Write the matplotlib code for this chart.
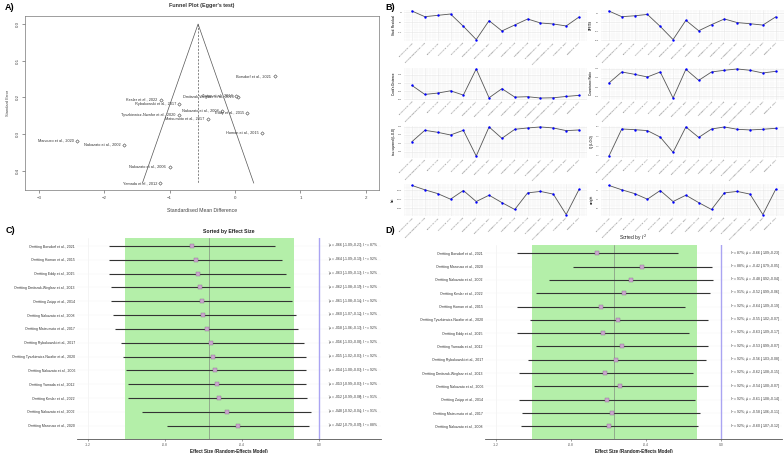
import numpy as np
import matplotlib
matplotlib.use('Agg')
from matplotlib import pyplot as plt

plt.rcParams['font.family'] = ['Liberation Sans', 'DejaVu Sans']

W, H = 784, 453

# studies in alphabetical order (funnel plot + influence diagnostics)
studies = ["Borsdorf et al., 2021", "Dmitrzak-Weglarz et al., 2013", "Eddy et al., 2015",
           "Homan et al., 2015", "Kesler et al., 2022", "Mancuso et al., 2020",
           "Matsumoto et al., 2017", "Nakazato et al., 2002", "Nakazato et al., 2006",
           "Nakazato et al., 2008", "Rybakowski et al., 2017", "Tyszkiewicz-Nwafor et al., 2020",
           "Yamada et al., 2012", "Zwipp et al., 2014"]
smd = [0.61, 0.04, 0.19, 0.41, -1.13, -2.41, -0.41, -1.69, -1.00, -0.20, -0.85, -0.86, -1.14, 0.02]
se = [0.142, 0.199, 0.242, 0.297, 0.206, 0.319, 0.258, 0.330, 0.390, 0.237, 0.219, 0.249, 0.434, 0.196]
pooled = -0.565

# influence diagnostics (same study order)
stud_resid = [1.70, 0.85, 1.05, 1.25, -0.60, -2.60, 0.25, -1.30, -0.40, 0.50, -0.10, -0.25, -0.55, 0.80]
dffits = [0.50, 0.25, 0.29, 0.35, -0.18, -0.76, 0.09, -0.37, -0.10, 0.15, -0.01, -0.06, -0.12, 0.24]
cooks_d = [0.102, 0.035, 0.045, 0.062, 0.030, 0.225, 0.010, 0.078, 0.015, 0.018, 0.008, 0.010, 0.020, 0.028]
cov_ratio = [0.967, 1.150, 1.111, 1.067, 1.150, 0.717, 1.194, 1.011, 1.150, 1.178, 1.200, 1.178, 1.133, 1.161]
tau2_loo = [0.360, 0.428, 0.416, 0.400, 0.428, 0.274, 0.448, 0.380, 0.434, 0.442, 0.448, 0.442, 0.426, 0.430]
q_loo = [139.9, 167.9, 167.2, 166.2, 159.5, 143.8, 170.0, 159.2, 167.9, 170.0, 167.6, 166.9, 167.6, 168.6]
weight = [7.76, 7.52, 7.31, 7.00, 7.48, 6.87, 7.22, 6.81, 6.43, 7.35, 7.43, 7.28, 6.15, 7.54]
hat = [w / 100 for w in weight]

# leave-one-out results, sorted by effect size
loo_names = ["Borsdorf et al., 2021", "Homan et al., 2015", "Eddy et al., 2015",
             "Dmitrzak-Weglarz et al., 2013", "Zwipp et al., 2014", "Nakazato et al., 2008",
             "Matsumoto et al., 2017", "Rybakowski et al., 2017", "Tyszkiewicz-Nwafor et al., 2020",
             "Nakazato et al., 2006", "Yamada et al., 2012", "Kesler et al., 2022",
             "Nakazato et al., 2002", "Mancuso et al., 2020"]
loo_est = [-0.66, -0.64, -0.63, -0.62, -0.61, -0.60, -0.58, -0.56, -0.55, -0.54, -0.53, -0.52, -0.48, -0.42]
loo_low = [-1.09, -1.09, -1.09, -1.08, -1.08, -1.07, -1.06, -1.03, -1.02, -1.00, -0.99, -0.99, -0.92, -0.79]
loo_high = [-0.23, -0.19, -0.17, -0.15, -0.14, -0.12, -0.11, -0.08, -0.07, -0.07, -0.07, -0.06, -0.04, -0.05]
loo_i2 = [87, 92, 92, 92, 92, 92, 92, 92, 92, 92, 92, 91, 91, 88]

# order used in the I^2 sorted panel
i2_order = ["Borsdorf et al., 2021", "Mancuso et al., 2020", "Nakazato et al., 2002",
            "Kesler et al., 2022", "Homan et al., 2015", "Tyszkiewicz-Nwafor et al., 2020",
            "Eddy et al., 2015", "Yamada et al., 2012", "Rybakowski et al., 2017",
            "Dmitrzak-Weglarz et al., 2013", "Nakazato et al., 2006", "Zwipp et al., 2014",
            "Matsumoto et al., 2017", "Nakazato et al., 2008"]

ci_low, ci_high, loo_pooled = -1.01, -0.13, -0.573


def box(x0, y0, x1, y1):
    return [x0 / W, 1 - y1 / H, (x1 - x0) / W, (y1 - y0) / H]


fig = plt.figure(figsize=(W / 100, H / 100), dpi=100)
fig.patch.set_facecolor('white')

# ---------------- A) funnel plot ----------------
ax = fig.add_axes(box(25, 16, 379, 190))
semax = max(se)
ax.plot([pooled - 1.96 * semax, pooled, pooled + 1.96 * semax], [semax, 0, semax],
        color='#555555', lw=0.5)
ax.plot([pooled, pooled], [0, semax], color='#555555', lw=0.5, ls=(0, (3, 2)))
ax.scatter(smd, se, marker='D', s=3, facecolors='white', edgecolors='#444444', linewidths=0.4, zorder=3)
for name, x, y in zip(studies, smd, se):
    ax.annotate(name, (x, y), xytext=(-2.5, 0), textcoords='offset points',
                ha='right', va='center', fontsize=2.8, color='#333333')
ax.set_xlim(-3.21, 2.2)
ax.set_ylim(0.453, -0.022)
ax.set_xticks([-3, -2, -1, 0, 1, 2])
ax.set_yticks([0.0, 0.1, 0.2, 0.3, 0.4])
ax.set_yticklabels(['0.0', '0.1', '0.2', '0.3', '0.4'], rotation=90, va='center')
ax.tick_params(labelsize=3.2, length=2, width=0.4, colors='#444444', pad=2)
for s in ax.spines.values():
    s.set_color('#777777')
    s.set_linewidth(0.5)
ax.set_xlabel('Standardised Mean Difference', fontsize=3.7, color='#444444', labelpad=6)
ax.set_ylabel('Standard Error', fontsize=2.9, color='#444444', labelpad=4)
fig.text(202 / W, 1 - 5 / H, "Funnel Plot (Egger's test)", ha='center', va='center',
         fontsize=3.9, fontweight='bold', color='#333333')

# ---------------- B) influence diagnostics ----------------
rows = [(9.6, 41), (67.5, 99.5), (125.5, 157.5), (184, 216)]
cols = [(403.6, 587.4), (600.6, 784)]
panels = [(stud_resid, 'Stud. Residual'), (dffits, 'DFFITS'),
          (cooks_d, "Cook's Distance"), (cov_ratio, 'Covariance Ratio'),
          (tau2_loo, 'tau-squared (L.O.O)'), (q_loo, 'Q (L.O.O)'),
          (hat, 'hat'), (weight, 'weight')]
xpos = np.arange(1, len(studies) + 1)
for i, (vals, lab) in enumerate(panels):
    r, c = divmod(i, 2)
    bx = fig.add_axes(box(cols[c][0], rows[r][0], cols[c][1], rows[r][1]))
    bx.plot(xpos, vals, color='#555555', lw=0.6, zorder=2)
    bx.scatter(xpos, vals, s=3, color='blue', zorder=3, linewidths=0)
    bx.set_xticks(xpos)
    bx.set_xticklabels(studies, rotation=45, ha='right', rotation_mode='anchor', fontsize=1.5, color='#555555')
    bx.tick_params(axis='y', labelsize=1.5, colors='#555555')
    bx.tick_params(length=0, pad=1)
    bx.yaxis.set_major_locator(matplotlib.ticker.MaxNLocator(4))
    bx.grid(True, color='#e6e6e6', lw=0.4)
    bx.minorticks_on()
    bx.grid(True, which='minor', color='#f2f2f2', lw=0.3)
    bx.tick_params(which='minor', length=0)
    bx.set_axisbelow(True)
    for s in bx.spines.values():
        s.set_visible(False)
    bx.set_ylabel(lab, fontsize=2.1, fontweight='bold', color='#333333', labelpad=1.5)


# ---------------- C) / D) leave-one-out forest plots ----------------
def forest(rect, names, est, low, high, i2, ylim, xlim, i2_first):
    fx = fig.add_axes(rect)
    pos = np.arange(1, len(names) + 1)
    fx.set_xlim(*xlim)
    fx.set_ylim(*ylim)
    fx.grid(True, axis='x', color='#ececec', lw=0.4)
    fx.grid(True, axis='y', color='#f4f4f4', lw=0.3)
    fx.set_axisbelow(True)
    fx.axvspan(ci_low, ci_high, color='#b4efa9', lw=0, zorder=1)
    fx.axvline(loo_pooled, color='#777777', lw=0.4, zorder=2)
    fx.axvline(0, color='#aaa4f2', lw=1.0, zorder=2)
    fx.hlines(pos, low, high, color='#333333', lw=0.8, zorder=3)
    fx.scatter(est, pos, s=6, marker='s', facecolors='#c9a6cc', edgecolors='#8f6b93',
               linewidths=0.3, zorder=4)
    for p, e, lo, hi, q in zip(pos, est, low, high, i2):
        ci = f"{e:.2f} [{lo:.2f};{hi:.2f}]"
        if i2_first:
            txt = rf"$I^2$ = {q}%; $\hat{{\mu}}$ = {ci}"
        else:
            txt = rf"$\hat{{\mu}}$ = {ci}; $I^2$ = {q}%"
        fx.text(0.048, p, txt, ha='left', va='center', fontsize=2.4, color='#333333', zorder=5)
    fx.set_yticks(pos)
    fx.set_yticklabels([f"Omitting {n}" for n in names], fontsize=2.5, color='#333333')
    fx.set_xticks([-1.2, -0.8, -0.4, 0.0])
    fx.set_xticklabels(['-1.2', '-0.8', '-0.4', '0.0'])
    fx.tick_params(axis='x', labelsize=2.4, colors='#555555', length=1.2, width=0.4, pad=1.5)
    fx.tick_params(axis='y', length=0, pad=1.5)
    for s in ['top', 'right', 'left']:
        fx.spines[s].set_visible(False)
    fx.spines['bottom'].set_color('#555555')
    fx.spines['bottom'].set_linewidth(0.6)
    fx.set_xlabel('Effect Size (Random-Effects Model)', fontsize=3.3, fontweight='bold',
                  color='#222222', labelpad=1.5)
    return fx


forest(box(77, 238, 381, 439), loo_names, loo_est, loo_low, loo_high, loo_i2,
       (14.96, 0.42), (-1.257, 0.322), False)
fig.text(229 / W, 1 - 232 / H, 'Sorted by Effect Size', ha='center', va='center',
         fontsize=3.7, fontweight='bold', color='#222222')

idx = [loo_names.index(n) for n in i2_order]
forest(box(485, 245, 782, 439), i2_order,
       [loo_est[k] for k in idx], [loo_low[k] for k in idx],
       [loo_high[k] for k in idx], [loo_i2[k] for k in idx],
       (14.95, 0.38), (-1.26, 0.326), True)
fig.text(633 / W, 1 - 238 / H, r'Sorted by $I^2$', ha='center', va='center',
         fontsize=3.5, color='#222222')

# panel letters
for lab, x, y in [('A)', 5, 7), ('B)', 385, 7), ('C)', 6, 230), ('D)', 385, 230)]:
    fig.text(x / W, 1 - y / H, lab, ha='left', va='center', fontsize=6.5, fontweight='bold')

fig.savefig('out.png', dpi=100, facecolor='white')
